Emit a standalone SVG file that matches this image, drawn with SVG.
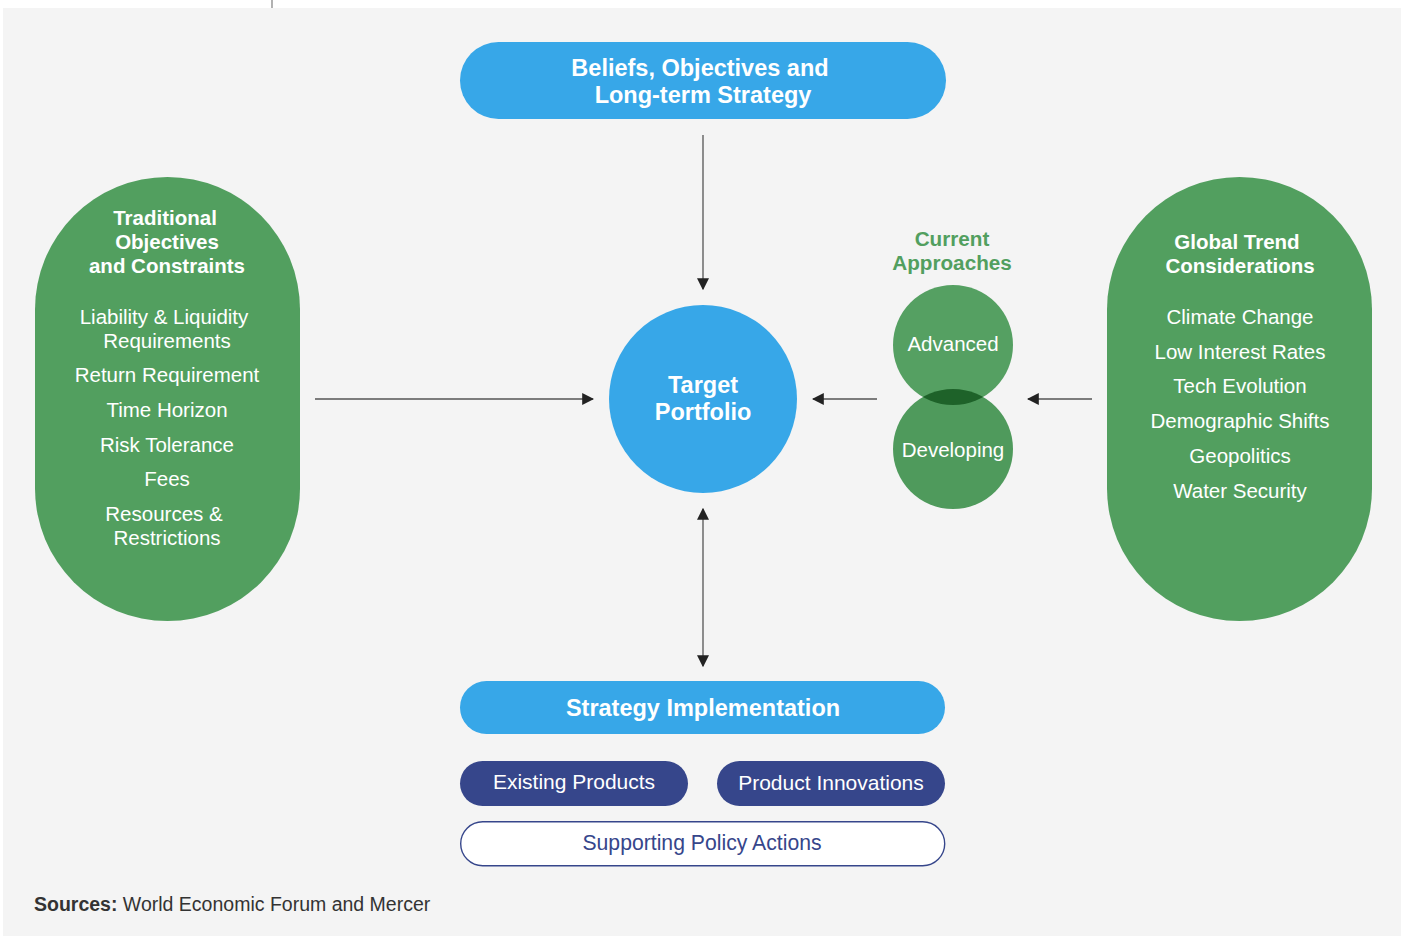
<svg xmlns="http://www.w3.org/2000/svg" width="1405" height="936" viewBox="0 0 1405 936">
<defs>
<marker id="ah" viewBox="0 0 10 10" refX="9" refY="5" markerWidth="12" markerHeight="12" markerUnits="userSpaceOnUse" orient="auto-start-reverse">
<path d="M0,0 L10,5 L0,10 Z" fill="#222"/>
</marker>
<clipPath id="advClip"><circle cx="953" cy="345" r="60"/></clipPath>
</defs>
<style>
.blue{fill:#37a7e8}
.green{fill:#529f5f}
.navy{fill:#36468b}
.tb{font-family:"Liberation Sans",Arial,sans-serif;font-weight:bold;fill:#fff;text-anchor:middle}
.tl{font-family:"Liberation Sans",Arial,sans-serif;fill:#fff;text-anchor:middle;font-size:20.5px}
.conn{stroke:#555;stroke-width:1.3;fill:none}
</style>
<rect x="0" y="0" width="1405" height="936" fill="#fff"/>
<rect x="3" y="8" width="1398" height="928" fill="#f4f4f4"/>
<line x1="272" y1="0" x2="272" y2="8" stroke="#888" stroke-width="1.3"/>

<g id="connectors">
<line class="conn" x1="703" y1="135" x2="703" y2="289" marker-end="url(#ah)"/>
<line class="conn" x1="315" y1="399" x2="593" y2="399" marker-end="url(#ah)"/>
<line class="conn" x1="877" y1="399" x2="813" y2="399" marker-end="url(#ah)"/>
<line class="conn" x1="1092" y1="399" x2="1028" y2="399" marker-end="url(#ah)"/>
<line class="conn" x1="703" y1="509" x2="703" y2="666" marker-start="url(#ah)" marker-end="url(#ah)"/>
</g>

<g id="beliefs">
<rect class="blue" x="460" y="42" width="486" height="77" rx="38.5"/>
<text class="tb" font-size="23.5" x="700" y="76">Beliefs, Objectives and</text>
<text class="tb" font-size="23.5" x="703" y="103">Long-term Strategy</text>
</g>

<g id="traditional">
<rect class="green" x="35" y="177" width="265" height="444" rx="132.5"/>
<text class="tb" font-size="20.5" x="165" y="225">Traditional</text>
<text class="tb" font-size="20.5" x="167" y="249">Objectives</text>
<text class="tb" font-size="20.5" x="167" y="273">and Constraints</text>
<text class="tl" x="164" y="324">Liability &amp; Liquidity</text>
<text class="tl" x="167" y="348">Requirements</text>
<text class="tl" x="167" y="382">Return Requirement</text>
<text class="tl" x="167" y="417">Time Horizon</text>
<text class="tl" x="167" y="452">Risk Tolerance</text>
<text class="tl" x="167" y="486">Fees</text>
<text class="tl" x="164" y="521">Resources &amp;</text>
<text class="tl" x="167" y="545">Restrictions</text>
</g>

<g id="target">
<circle class="blue" cx="703" cy="399" r="94"/>
<text class="tb" font-size="23.5" x="703" y="393">Target</text>
<text class="tb" font-size="23.5" x="703" y="420">Portfolio</text>
</g>

<g id="current-approaches">
<text font-family="Liberation Sans,Arial,sans-serif" font-weight="bold" font-size="20.7" fill="#529f5f" text-anchor="middle" x="952" y="246">Current</text>
<text font-family="Liberation Sans,Arial,sans-serif" font-weight="bold" font-size="20.7" fill="#529f5f" text-anchor="middle" x="952" y="270">Approaches</text>
</g>
<g id="advanced">
<circle cx="953" cy="345" r="60" fill="#55a062"/>
<text class="tl" x="953" y="351">Advanced</text>
</g>
<g id="developing">
<circle cx="953" cy="449" r="60" fill="#4f9a5c"/>
<circle cx="953" cy="449" r="60" fill="#1e6229" clip-path="url(#advClip)"/>
<text class="tl" x="953" y="457">Developing</text>
</g>

<g id="global">
<rect class="green" x="1107" y="177" width="265" height="444" rx="132.5"/>
<text class="tb" font-size="20.5" x="1237" y="249">Global Trend</text>
<text class="tb" font-size="20.5" x="1240" y="273">Considerations</text>
<text class="tl" x="1240" y="324">Climate Change</text>
<text class="tl" x="1240" y="359">Low Interest Rates</text>
<text class="tl" x="1240" y="393">Tech Evolution</text>
<text class="tl" x="1240" y="428">Demographic Shifts</text>
<text class="tl" x="1240" y="463">Geopolitics</text>
<text class="tl" x="1240" y="498">Water Security</text>
</g>

<g id="strategy">
<rect class="blue" x="460" y="681" width="485" height="53" rx="26.5"/>
<text class="tb" font-size="23.5" x="703" y="716">Strategy Implementation</text>
</g>
<g id="existing">
<rect class="navy" x="460" y="761" width="228" height="45" rx="22.5"/>
<text class="tl" font-size="21" style="font-size:21px" x="574" y="789">Existing Products</text>
</g>
<g id="innovations">
<rect class="navy" x="717" y="761" width="228" height="45" rx="22.5"/>
<text class="tl" style="font-size:21px" x="831" y="790">Product Innovations</text>
</g>
<g id="policy">
<rect x="460.7" y="821.7" width="484" height="44" rx="22" fill="#fff" stroke="#36468b" stroke-width="1.4"/>
<text font-family="Liberation Sans,Arial,sans-serif" font-size="21.2" fill="#36468b" text-anchor="middle" x="702" y="850">Supporting Policy Actions</text>
</g>

<text font-family="Liberation Sans,Arial,sans-serif" font-size="19.5" fill="#333" x="34" y="911"><tspan font-weight="bold">Sources:</tspan> World Economic Forum and Mercer</text>
</svg>
